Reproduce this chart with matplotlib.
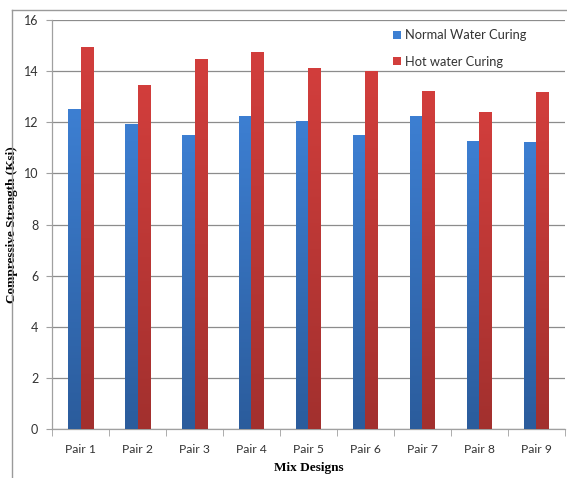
import numpy as np
import matplotlib
matplotlib.use("Agg")
import matplotlib.pyplot as plt
from matplotlib.colors import LinearSegmentedColormap
from matplotlib.lines import Line2D
from matplotlib.patches import Patch

categories = ["Pair 1", "Pair 2", "Pair 3", "Pair 4", "Pair 5",
              "Pair 6", "Pair 7", "Pair 8", "Pair 9"]
normal_curing = [12.52, 11.94, 11.50, 12.26, 12.06, 11.50, 12.23, 11.25, 11.23]
hot_curing = [14.94, 13.45, 14.47, 14.77, 14.12, 14.00, 13.22, 12.41, 13.17]
series_names = ["Normal Water Curing", "Hot water Curing"]
y_ticks = [0, 2, 4, 6, 8, 10, 12, 14, 16]

blue_top, blue_bottom = "#3d7fd2", "#2b5c9c"
red_top, red_bottom = "#d23e3c", "#a2302e"

tick_font = "Lato"
label_font = "Liberation Serif"

fig = plt.figure(figsize=(5.67, 4.78), dpi=100)
ax = fig.add_axes([0.092, 0.1025, 0.904, 0.8555])

x = np.arange(len(categories))
width = 0.215


def gradient_bars(xpos, values, top, bottom):
    bars = ax.bar(xpos, values, width, color=top, linewidth=0, zorder=3)
    cmap = LinearSegmentedColormap.from_list("g", [bottom, top])
    grad = np.linspace(0, 1, 256).reshape(-1, 1)
    for b in bars:
        x0, w, h = b.get_x(), b.get_width(), b.get_height()
        im = ax.imshow(grad, cmap=cmap, origin="lower", aspect="auto",
                       extent=[x0, x0 + w, 0, h], zorder=4)
        im.set_clip_path(b)
    return bars


gradient_bars(x - width / 2, normal_curing, blue_top, blue_bottom)
gradient_bars(x + width / 2, hot_curing, red_top, red_bottom)

ax.set_xlim(-0.5, len(categories) - 0.5)
ax.set_ylim(0, 16)
ax.set_yticks(y_ticks)
ax.set_yticklabels([str(v) for v in y_ticks], fontsize=9,
                   family=tick_font, color="#333333")
ax.set_xticks(x)
ax.set_xticklabels(categories, fontsize=8.7, family=tick_font,
                   color="#333333")
ax.tick_params(axis="x", length=0, pad=11)
ax.set_xticks(np.arange(-0.5, len(categories), 1.0), minor=True)
ax.tick_params(axis="x", which="minor", length=5, color="#a0a0a0",
               direction="out")
ax.tick_params(axis="y", length=4, color="#a0a0a0", pad=6)

ax.yaxis.grid(True, color="#8c8c8c", linewidth=0.9, zorder=0)
ax.set_axisbelow(True)
for side in ["top", "right"]:
    ax.spines[side].set_visible(False)
for side in ["left", "bottom"]:
    ax.spines[side].set_color("#a0a0a0")
    ax.spines[side].set_linewidth(0.9)

ax.set_ylabel("Compressive Strength (Ksi)", family=label_font,
              fontweight="bold", fontsize=9.5, labelpad=4)
ax.set_xlabel("Mix Designs", family=label_font, fontweight="bold",
              fontsize=9.5, labelpad=5)

handles = [Patch(facecolor=blue_top, edgecolor="none"),
           Patch(facecolor=red_top, edgecolor="none")]
leg = ax.legend(handles, series_names, loc="upper right",
                bbox_to_anchor=(0.952, 1.012), frameon=False,
                prop={"family": tick_font, "size": 9.3},
                handlelength=0.6, handleheight=0.6, handletextpad=0.3,
                labelspacing=1.1, borderpad=0.6)
for t in leg.get_texts():
    t.set_color("#333333")

# outer chart border (left and top edges)
fig.add_artist(Line2D([12 / 567, 12 / 567], [0, 1 - 10 / 478],
                      transform=fig.transFigure, color="#9a9a9a", lw=1))
fig.add_artist(Line2D([12 / 567, 1], [1 - 10 / 478, 1 - 10 / 478],
                      transform=fig.transFigure, color="#9a9a9a", lw=1))

fig.savefig("out.png", dpi=100)
